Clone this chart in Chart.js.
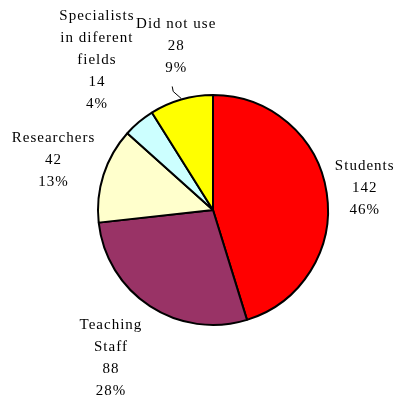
<!DOCTYPE html>
<html lang="en">
<head>
<meta charset="UTF-8">
<title>Users pie</title>
<script src="https://cdn.jsdelivr.net/npm/chart.js"></script>
<style>
    html, body { margin: 0; padding: 0; background: #fff; }
    #wrap { width: 398px; height: 401px; }
</style>
</head>
<body>
<div id="wrap"><canvas id="pie"></canvas></div>
<script>
    const categories = ["Students", "Teaching Staff", "Researchers", "Specialists in diferent fields", "Did not use"];
    const counts = [142, 88, 42, 14, 28];
    const percentLabels = ["46%", "28%", "13%", "4%", "9%"];
    const colors = ["#FF0000", "#993366", "#FFFFCC", "#CCFFFF", "#FFFF00"];

    // text lines for each slice label
    const labelLines = [
        ["Students"],
        ["Teaching", "Staff"],
        ["Researchers"],
        ["Specialists", "in diferent", "fields"],
        ["Did not use"]
    ];
    // offset of label block centre from the slice's outer edge point
    const labelOffsets = [[37, -5], [-40, 52], [-51, -15], [-43, -62], [-6, -53]];

    const sliceLabels = {
        id: 'sliceLabels',
        afterDraw(chart) {
            const ctx = chart.ctx;
            const arcs = chart.getDatasetMeta(0).data;
            ctx.save();
            ctx.font = '15px "Liberation Serif", "Times New Roman", serif';
            ctx.letterSpacing = '1px';
            ctx.fillStyle = '#000';
            ctx.textAlign = 'center';
            ctx.textBaseline = 'middle';
            const lh = 22;
            arcs.forEach((arc, i) => {
                const p = arc.getProps(['x', 'y', 'startAngle', 'endAngle', 'outerRadius'], true);
                const mid = (p.startAngle + p.endAngle) / 2;
                const ex = p.x + Math.cos(mid) * p.outerRadius;
                const ey = p.y + Math.sin(mid) * p.outerRadius;
                const lines = labelLines[i].concat([String(counts[i]), percentLabels[i]]);
                const cx = ex + labelOffsets[i][0];
                const cy = ey + labelOffsets[i][1];
                const top = cy - (lines.length - 1) * lh / 2;
                lines.forEach((t, k) => ctx.fillText(t, cx + 1, top + k * lh));
                if (i === 4) {
                    // leader line for the small slice
                    const bottom = top + (lines.length - 1) * lh + 18;
                    ctx.beginPath();
                    ctx.strokeStyle = '#000';
                    ctx.lineWidth = 1;
                    ctx.moveTo(cx - 3, bottom);
                    ctx.lineTo(cx - 2, bottom + 5);
                    ctx.lineTo(ex, ey - 1);
                    ctx.stroke();
                }
            });
            ctx.restore();
        }
    };

    new Chart(document.getElementById('pie'), {
        type: 'pie',
        data: {
            labels: categories,
            datasets: [{
                data: counts,
                backgroundColor: colors,
                borderColor: '#000',
                borderWidth: 2
            }]
        },
        options: {
            responsive: true,
            maintainAspectRatio: false,
            animation: false,
            radius: 115,
            layout: { padding: { left: 28, right: 0, top: 19, bottom: 0 } },
            plugins: {
                legend: { display: false },
                tooltip: { enabled: false }
            }
        },
        plugins: [sliceLabels]
    });
</script>
</body>
</html>
